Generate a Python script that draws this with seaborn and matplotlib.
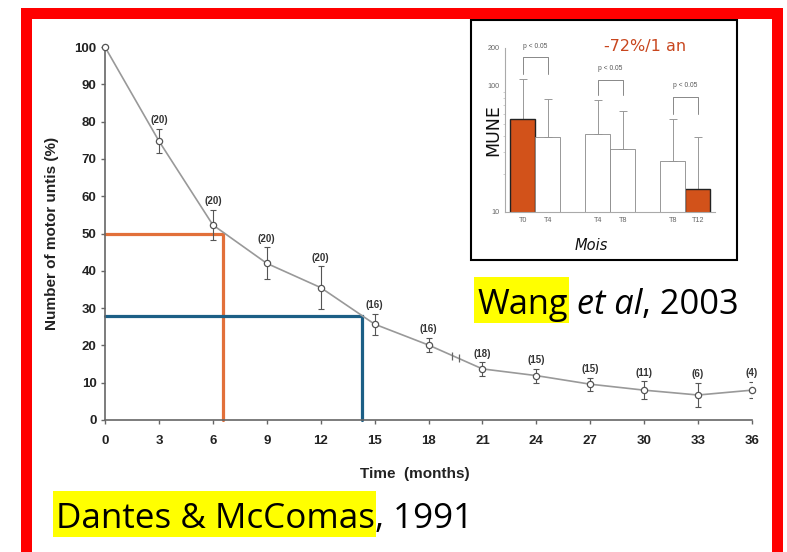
import numpy as np
import pandas as pd
import matplotlib
matplotlib.use("Agg")
import matplotlib.pyplot as plt
from matplotlib.patches import Rectangle
import seaborn as sns

# ---------------- data ----------------
months = [0, 3, 6, 9, 12, 15, 18, 21, 24, 27, 30, 33, 36]
motor_units = [100, 74.8, 52.3, 42.0, 35.5, 25.7, 20.1, 13.7, 11.9, 9.6, 8.0, 6.7, 8.0]
motor_err = [0, 3.3, 4.1, 4.3, 5.7, 2.8, 1.9, 1.8, 1.9, 1.7, 2.4, 3.3, 2.2]
n_labels = ["", "(20)", "(20)", "(20)", "(20)", "(16)", "(16)", "(18)", "(15)", "(15)", "(11)", "(6)", "(4)"]
x_ticks = [0, 3, 6, 9, 12, 15, 18, 21, 24, 27, 30, 33, 36]
y_ticks = [0, 10, 20, 30, 40, 50, 60, 70, 80, 90, 100]
half_life = [6.57, 50]      # (month, %) orange guide
quarter_life = [14.3, 28]   # (month, %) blue guide
break_month = 19.5

inset_labels = ["T0", "T4", "T4", "T8", "T8", "T12"]
inset_slots = [0, 1, 3, 4, 6, 7]
mune_values = [55, 39, 41.5, 31.5, 25.4, 15.1]
mune_upper = [113, 79, 77, 63, 55, 39]
mune_highlight = [True, False, False, False, False, True]
p_pairs = [(0, 1), (2, 3), (4, 5)]
p_top = [169, 111, 81]
p_leg = [124, 84, 60]
p_text_y = [205, 138, 100]
p_text = "p < 0.05"

W, H = 787, 552
DPI = 100

sns.set_theme(style="ticks")
plt.rcParams["font.family"] = ["Liberation Sans", "DejaVu Sans"]

fig = plt.figure(figsize=(W / DPI, H / DPI), dpi=DPI)
fig.patch.set_facecolor("white")

def fx(px):
    return px / W

def fy(py):
    return 1 - py / H

# ---------------- main chart ----------------
ax = fig.add_axes([fx(105), fy(420), 647 / W, 373 / H])
ax.set_xlim(0, 36)
ax.set_ylim(0, 100)

df = pd.DataFrame({"month": months, "mu": motor_units, "err": motor_err, "n": n_labels})

# guide lines
ax.plot([0, half_life[0], half_life[0]], [half_life[1], half_life[1], 0],
        color="#E2703A", lw=2.3, solid_joinstyle="miter", zorder=2, clip_on=False)
ax.plot([0, quarter_life[0], quarter_life[0]], [quarter_life[1], quarter_life[1], 0],
        color="#1C5F86", lw=2.3, solid_joinstyle="miter", zorder=2, clip_on=False)

ax.errorbar(df["month"][1:], df["mu"][1:], yerr=df["err"][1:], fmt="none",
            ecolor="#555555", elinewidth=0.8, capsize=2.2, capthick=0.8, zorder=3)

sns.lineplot(data=df, x="month", y="mu", ax=ax, color="#999999", lw=1.2,
             marker="o", markersize=4.5, markerfacecolor="white",
             markeredgecolor="#555555", markeredgewidth=0.9, clip_on=False, zorder=4)

for m, v, e, lab in zip(months, motor_units, motor_err, n_labels):
    if lab:
        ax.annotate(lab, (m, v + e), xytext=(0, 2.5), textcoords="offset points",
                    ha="center", va="bottom", fontsize=7, fontweight="bold", color="#333333")

by = np.interp(break_month, months, motor_units)
ax.plot([break_month - 0.2, break_month + 0.2], [by + 0.3, by - 0.3], ls="none",
        marker="|", markersize=6, markeredgewidth=0.9, color="#666666", zorder=5)

for s in ["top", "right"]:
    ax.spines[s].set_visible(False)
for s in ["left", "bottom"]:
    ax.spines[s].set_color("#666666")
    ax.spines[s].set_linewidth(1.2)
ax.set_xticks(x_ticks)
ax.set_yticks(y_ticks)
ax.tick_params(direction="out", length=3, width=1, color="#666666",
               labelsize=9.5, labelcolor="#222222", pad=3)
for t in ax.get_xticklabels() + ax.get_yticklabels():
    t.set_fontweight("bold")
ax.tick_params(axis="x", pad=8)
ax.set_ylabel("Number of motor untis (%)", fontsize=11, fontweight="bold", color="#222222", labelpad=11)
ax.set_xlabel("Time  (months)", fontsize=11, fontweight="bold", color="#222222", labelpad=14)
ax.xaxis.label.set_x((415 - 105) / 647)
ax.set_facecolor("none")

# ---------------- inset ----------------
fig.patches.append(Rectangle((fx(471), fy(260)), (737 - 471) / W, (260 - 20) / H,
                             transform=fig.transFigure, facecolor="white",
                             edgecolor="black", lw=1.5, zorder=5))

iax = fig.add_axes([fx(505), fy(211.7), (715 - 505) / W, (211.7 - 48) / H], zorder=6)
iax.set_facecolor("none")
iax.set_yscale("log")
idf = pd.DataFrame({"slot": inset_slots, "mune": mune_values,
                    "hl": ["orange" if h else "white" for h in mune_highlight]})
sns.barplot(data=idf, x="slot", y="mune", hue="hl", native_scale=True, saturation=1,
            palette={"orange": "#D2521A", "white": "white"}, width=1.0,
            edgecolor="#888888", linewidth=0.6, legend=False, ax=iax, zorder=2)
for p in iax.patches:
    fc = p.get_facecolor()
    if fc[2] < 0.5:
        p.set_edgecolor("#222222")
        p.set_linewidth(1.0)
upper = np.array(mune_upper) - np.array(mune_values)
iax.errorbar(inset_slots, mune_values, yerr=[np.zeros(len(upper)), upper], fmt="none",
             ecolor="#999999", elinewidth=0.7, capsize=3, capthick=0.7, zorder=1)
iax.set_xlim(-0.71, 7.69)
iax.set_ylim(10, 200)
for (a, b), top, leg, ty in zip(p_pairs, p_top, p_leg, p_text_y):
    iax.plot([inset_slots[a], inset_slots[a], inset_slots[b], inset_slots[b]], [leg, top, top, leg],
             color="#888888", lw=0.7, clip_on=False)
    iax.text((inset_slots[a] + inset_slots[b]) / 2, ty, p_text, ha="center", va="center",
             fontsize=4.8, color="#555555", clip_on=False)
iax.set_xticks(inset_slots)
iax.set_xticklabels(inset_labels)
iax.set_yticks([10, 100, 200])
iax.set_yticklabels(["10", "100", "200"])
iax.yaxis.set_minor_formatter(matplotlib.ticker.NullFormatter())
iax.tick_params(axis="both", which="major", length=0, labelsize=5.2, labelcolor="#666666", pad=4)
iax.tick_params(axis="y", which="minor", length=1.5, width=0.5, color="#bbbbbb")
for s in ["top", "right"]:
    iax.spines[s].set_visible(False)
for s in ["left", "bottom"]:
    iax.spines[s].set_color("#aaaaaa")
    iax.spines[s].set_linewidth(0.8)
iax.set_xlabel("")
iax.set_ylabel("")
fig.text(fx(493), fy(130), "MUNE", rotation=90, ha="center", va="center", fontsize=12.5,
         family="DejaVu Sans", color="#111111", zorder=7)
fig.text(fx(591), fy(245), "Mois", ha="center", va="center", fontsize=10.5,
         family="DejaVu Sans", style="italic", color="#111111", zorder=7)
fig.text(fx(645), fy(47), "-72%/1 an", ha="center", va="center", fontsize=11.5,
         family="DejaVu Sans", color="#C8461E", zorder=7)

# ---------------- citations ----------------
renderer = fig.canvas.get_renderer()

def pieces_width(pieces, size, family):
    tot = 0
    for s, style, hl in pieces:
        t = fig.text(0, 0, s, fontsize=size, fontstyle=style, family=family)
        tot += t.get_window_extent(renderer).width
        t.remove()
    return tot

def place(pieces, x0, base, target_w, family="Open Sans"):
    size = 20 * target_w / pieces_width(pieces, 20, family)
    x = x0
    for s, style, hl in pieces:
        t = fig.text(fx(x), fy(base), s, fontsize=size, fontstyle=style, family=family,
                     ha="left", va="baseline", color="black", zorder=8)
        w = t.get_window_extent(renderer).width
        if hl:
            fig.patches.append(Rectangle((fx(x - 3), fy(base + 9)), (w + 4) / W, 46 / H,
                                         transform=fig.transFigure, facecolor="#FFFF00",
                                         edgecolor="none", zorder=7))
        x += w

place([("Wang", "normal", True), (" et al", "italic", False), (", 2003", "normal", False)],
      477, 314, 261)
place([("Dantes & McComas", "normal", True), (", 1991", "normal", False)],
      56, 527.5, 417)

# ---------------- red frame ----------------
fig.patches.append(Rectangle((fx(26.5), fy(557.5)), (777 - 26.5) / W, (557.5 - 12.5) / H,
                             transform=fig.transFigure, facecolor="none",
                             edgecolor="#FF0000", lw=11 * 0.72, zorder=10))

fig.savefig("out.png", dpi=DPI)
